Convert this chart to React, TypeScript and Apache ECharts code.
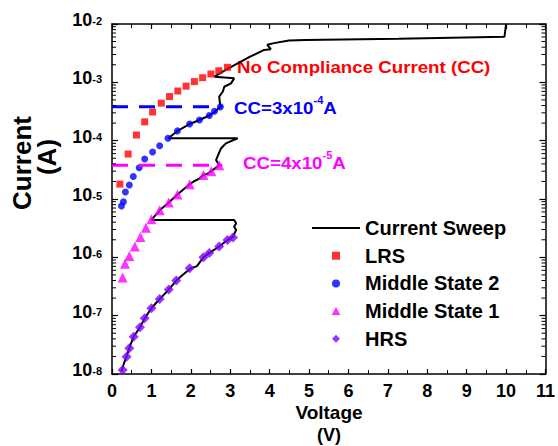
import React, { useEffect, useRef } from "react";
import * as echarts from "echarts";

const FONT = 'Arial, "Liberation Sans", sans-serif';

// LRS (red squares)
const lrsVoltage = [0.2, 0.41, 0.62, 0.83, 1.03, 1.25, 1.46, 1.67, 1.88, 2.09, 2.3, 2.51, 2.71, 2.93];
const lrsCurrent = [1.8e-5, 5.9e-5, 1.25e-4, 2.1e-4, 3.1e-4, 4.4e-4, 5.7e-4, 7.1e-4, 8.6e-4, 1.03e-3, 1.2e-3, 1.39e-3, 1.58e-3, 1.81e-3];

// Middle State 2 (blue circles)
const ms2Voltage = [0.24, 0.29, 0.34, 0.44, 0.54, 0.69, 0.83, 1.03, 1.21, 1.42, 1.66, 1.97, 2.22, 2.47, 2.6, 2.75];
const ms2Current = [7.6e-6, 9.0e-6, 1.32e-5, 1.74e-5, 2.43e-5, 3.44e-5, 4.85e-5, 6.4e-5, 8.2e-5, 1.1e-4, 1.47e-4, 1.93e-4, 2.26e-4, 2.7e-4, 3.2e-4, 3.8e-4];

// Middle State 1 (magenta triangles)
const ms1Voltage = [0.27, 0.33, 0.44, 0.58, 0.72, 0.86, 1.0, 1.21, 1.44, 1.66, 1.97, 2.32, 2.52, 2.72];
const ms1Current = [4.5e-7, 7.8e-7, 1.05e-6, 1.53e-6, 2.23e-6, 3.2e-6, 4.5e-6, 6.4e-6, 8.7e-6, 1.19e-5, 1.79e-5, 2.58e-5, 3.0e-5, 3.8e-5];

// HRS (violet diamonds)
const hrsVoltage = [0.27, 0.37, 0.44, 0.55, 0.71, 0.83, 1.0, 1.21, 1.44, 1.63, 1.97, 2.32, 2.47, 2.72, 2.93, 3.07];
const hrsCurrent = [1.17e-8, 1.98e-8, 2.75e-8, 4.36e-8, 6.3e-8, 9.0e-8, 1.34e-7, 1.93e-7, 2.8e-7, 4.0e-7, 6.5e-7, 1.0e-6, 1.19e-6, 1.53e-6, 1.98e-6, 2.19e-6];

// Current sweep (black line)
const sweepVoltage = [
  0.24, 0.3, 0.37, 0.44, 0.55, 0.71, 0.83, 1.0, 1.21, 1.44, 1.63, 1.85, 2.02, 2.15, 2.32, 2.47, 2.72, 2.93, 3.07,
  3.15, 3.1, 3.15, 3.1, 1.0,
  1.21, 1.44, 1.66, 1.97, 2.1, 2.2, 2.32, 2.42, 2.52, 2.72, 2.64, 2.71, 2.77, 2.89, 3.19, 1.43,
  1.66, 1.8, 1.97, 2.22, 2.47, 2.6, 2.75, 2.72, 2.81, 2.85, 3.02, 3.1, 2.6, 2.81, 3.06, 3.48, 3.86, 4.03, 3.94,
  4.11, 4.49, 4.91, 7.27, 9.96, 10.0,
];
const sweepCurrent = [
  1.1e-8, 1.5e-8, 2.0e-8, 2.8e-8, 4.4e-8, 6.3e-8, 9.0e-8, 1.34e-7, 1.93e-7, 2.8e-7, 4.0e-7, 5.4e-7, 6.6e-7, 7.0e-7, 1.0e-6, 1.19e-6, 1.53e-6, 1.98e-6, 2.26e-6,
  2.94e-6, 3.35e-6, 3.83e-6, 4.37e-6, 4.37e-6,
  6.4e-6, 8.7e-6, 1.19e-5, 1.79e-5, 2.05e-5, 2.2e-5, 2.58e-5, 2.7e-5, 3.0e-5, 3.8e-5, 4.66e-5, 6.07e-5, 7.4e-5, 9.0e-5, 1.1e-4, 1.1e-4,
  1.47e-4, 1.65e-4, 1.93e-4, 2.26e-4, 2.7e-4, 3.1e-4, 3.8e-4, 5.7e-4, 6.9e-4, 8.4e-4, 9.6e-4, 1.17e-3, 1.25e-3, 1.52e-3, 1.9e-3, 2.7e-3, 3.6e-3, 3.7e-3, 4.4e-3,
  4.7e-3, 5.2e-3, 5.3e-3, 5.6e-3, 6.05e-3, 1.0e-2,
];

// Compliance-current dashed levels
const ccHighVoltage = [0, 2.8];
const ccHighCurrent = [3.8e-4, 3.8e-4];
const ccLowVoltage = [0, 2.8];
const ccLowCurrent = [3.8e-5, 3.8e-5];

const xMin = 0;
const xMax = 11;
const yMin = 1e-8;
const yMax = 1e-2;

const legendNames = ["Current Sweep", "LRS", "Middle State 2", "Middle State 1", "HRS"];
const legendIcons = [
  "path://M0,0L48,0L48,2L0,2Z",
  "path://M0,0L1,0L1,1L0,1Z",
  "path://M1,0.5A0.5,0.5,0,1,1,0,0.5A0.5,0.5,0,1,1,1,0.5Z",
  "path://M0.5,0L1,0.9L0,0.9Z",
  "path://M0.5,0L1,0.5L0.5,1L0,0.5Z",
];

const zip = (xs: number[], ys: number[]) => xs.map((x, i) => [x, ys[i]]);

// minor log tick positions (2..9 × each decade)
const minorTickValues: number[][] = [];
for (let e = -8; e < -2; e++) {
  for (let k = 2; k <= 9; k++) minorTickValues.push([0, k * Math.pow(10, e)]);
}

export default function App() {
  const ref = useRef<HTMLDivElement>(null);
  useEffect(() => {
    if (!ref.current) return;
    const chart = echarts.init(ref.current, undefined, { renderer: "svg" });
    const black = "#000";
    const xAxisBase = {
      type: "value",
      min: xMin,
      max: xMax,
      interval: 1,
      splitLine: { show: false },
      axisLine: { show: true, onZero: false, lineStyle: { color: black, width: 1.5 } },
      axisTick: { show: true, inside: true, length: 5, lineStyle: { color: black, width: 1.2 } },
      minorTick: { show: true, splitNumber: 2, length: 4, lineStyle: { color: black, width: 1 } },
      minorSplitLine: { show: false },
    };
    const yAxisBase = {
      type: "log",
      logBase: 10,
      min: yMin,
      max: yMax,
      splitNumber: 6,
      splitLine: { show: false },
      axisLine: { show: true, onZero: false, lineStyle: { color: black, width: 1.5 } },
      axisTick: { show: true, inside: true, length: 6, lineStyle: { color: black, width: 1.2 } },
    };
    const option: any = {
      animation: false,
      backgroundColor: "#fff",
      textStyle: { fontFamily: FONT },
      grid: { left: 112, right: 10, top: 24, bottom: 72, containLabel: false },
      xAxis: [
        {
          ...xAxisBase,
          position: "bottom",
          axisLabel: { show: true, fontSize: 18, fontWeight: "bold", color: black, margin: 8, fontFamily: FONT },
        },
        {
          ...xAxisBase,
          position: "top",
          axisLabel: { show: false },
        },
      ],
      yAxis: [
        {
          ...yAxisBase,
          position: "left",
          axisLabel: {
            show: true,
            margin: 10,
            formatter: (v: number) => `{b|10}{s|${Math.round(Math.log10(v))}}`,
            rich: {
              b: { fontSize: 18, fontWeight: "bold", color: black, fontFamily: FONT, lineHeight: 18, padding: [4, 0, 12, 0] },
              s: { fontSize: 11, fontWeight: "bold", color: black, fontFamily: FONT, lineHeight: 11, verticalAlign: "top" },
            },
          },
        },
        {
          ...yAxisBase,
          position: "right",
          axisLabel: { show: false },
        },
      ],
      legend: {
        orient: "vertical",
        left: 307,
        top: 213,
        itemWidth: 48,
        itemHeight: 8,
        itemGap: 7.7,
        symbolKeepAspect: true,
        data: legendNames.map((name, i) => ({ name, icon: legendIcons[i] })),
        textStyle: { fontSize: 20, fontWeight: "bold", color: black, fontFamily: FONT, lineHeight: 19 },
      },
      graphic: [
        {
          type: "text",
          x: 22,
          y: 163,
          rotation: Math.PI / 2,
          style: { text: "Current", fill: black, font: `bold 26px ${FONT}`, align: "center", verticalAlign: "middle" },
        },
        {
          type: "text",
          x: 47,
          y: 157,
          rotation: Math.PI / 2,
          style: { text: "(A)", fill: black, font: `bold 26px ${FONT}`, align: "center", verticalAlign: "middle" },
        },
        {
          type: "text",
          x: 329,
          y: 412,
          style: { text: "Voltage", fill: black, font: `bold 19px ${FONT}`, align: "center", verticalAlign: "middle" },
        },
        {
          type: "text",
          x: 329,
          y: 435,
          style: { text: "(V)", fill: black, font: `bold 18px ${FONT}`, align: "center", verticalAlign: "middle" },
        },
        {
          type: "text",
          x: 237,
          y: 67,
          scaleX: 1.1,
          style: { text: "No Compliance Current (CC)", fill: "#ff0000", font: `bold 17px ${FONT}`, align: "left", verticalAlign: "middle" },
        },
        {
          type: "text",
          x: 234,
          y: 106,
          scaleX: 1.1,
          style: {
            text: "{t|CC=3x10}{s|-4}{t|A}",
            align: "left",
            verticalAlign: "middle",
            rich: {
              t: { fontSize: 17, fontWeight: "bold", fill: "#0000ff", fontFamily: FONT, lineHeight: 22, verticalAlign: "bottom" },
              s: { fontSize: 10, fontWeight: "bold", fill: "#0000ff", fontFamily: FONT, lineHeight: 10, verticalAlign: "top" },
            },
          },
        },
        {
          type: "text",
          x: 243,
          y: 161,
          scaleX: 1.1,
          style: {
            text: "{t|CC=4x10}{s|-5}{t|A}",
            align: "left",
            verticalAlign: "middle",
            rich: {
              t: { fontSize: 17, fontWeight: "bold", fill: "#ff00ff", fontFamily: FONT, lineHeight: 22, verticalAlign: "bottom" },
              s: { fontSize: 10, fontWeight: "bold", fill: "#ff00ff", fontFamily: FONT, lineHeight: 10, verticalAlign: "top" },
            },
          },
        },
      ],
      series: [
        {
          name: "Current Sweep",
          type: "line",
          data: zip(sweepVoltage, sweepCurrent),
          symbol: "none",
          showSymbol: false,
          lineStyle: { color: black, width: 2 },
          itemStyle: { color: black },
          z: 2,
        },
        {
          name: "LRS",
          type: "scatter",
          data: zip(lrsVoltage, lrsCurrent),
          symbol: "rect",
          symbolSize: 7,
          itemStyle: { color: "#ff0000" },
          z: 3,
        },
        {
          name: "Middle State 2",
          type: "scatter",
          data: zip(ms2Voltage, ms2Current),
          symbol: "circle",
          symbolSize: 7,
          itemStyle: { color: "#0000ff" },
          z: 3,
        },
        {
          name: "Middle State 1",
          type: "scatter",
          data: zip(ms1Voltage, ms1Current),
          symbol: "triangle",
          symbolSize: 10,
          itemStyle: { color: "#ff00ff" },
          z: 3,
        },
        {
          name: "HRS",
          type: "scatter",
          data: zip(hrsVoltage, hrsCurrent),
          symbol: "diamond",
          symbolSize: 10,
          itemStyle: { color: "#7f00ff" },
          z: 3,
        },
        {
          name: "ccHigh",
          type: "line",
          data: zip(ccHighVoltage, ccHighCurrent),
          symbol: "none",
          lineStyle: { color: "#0000ff", width: 3, type: [16, 11] },
          z: 4,
        },
        {
          name: "ccLow",
          type: "line",
          data: zip(ccLowVoltage, ccLowCurrent),
          symbol: "none",
          lineStyle: { color: "#ff00ff", width: 3, type: [16, 11] },
          z: 4,
        },
        {
          name: "minorTicks",
          type: "custom",
          silent: true,
          data: minorTickValues,
          encode: { x: 0, y: 1 },
          clip: false,
          z: 5,
          renderItem: (_params: any, api: any) => {
            const v = api.value(1);
            const l = api.coord([xMin, v]);
            const r = api.coord([xMax, v]);
            return {
              type: "group",
              children: [
                { type: "line", shape: { x1: l[0], y1: l[1], x2: l[0] + 4, y2: l[1] }, style: { stroke: black, lineWidth: 1 } },
                { type: "line", shape: { x1: r[0] - 4, y1: r[1], x2: r[0], y2: r[1] }, style: { stroke: black, lineWidth: 1 } },
              ],
            };
          },
        },
      ],
    };
    chart.setOption(option);
    return () => chart.dispose();
  }, []);
  return <div ref={ref} style={{ position: "fixed", left: 0, top: 0, width: 558, height: 446 }} />;
}
